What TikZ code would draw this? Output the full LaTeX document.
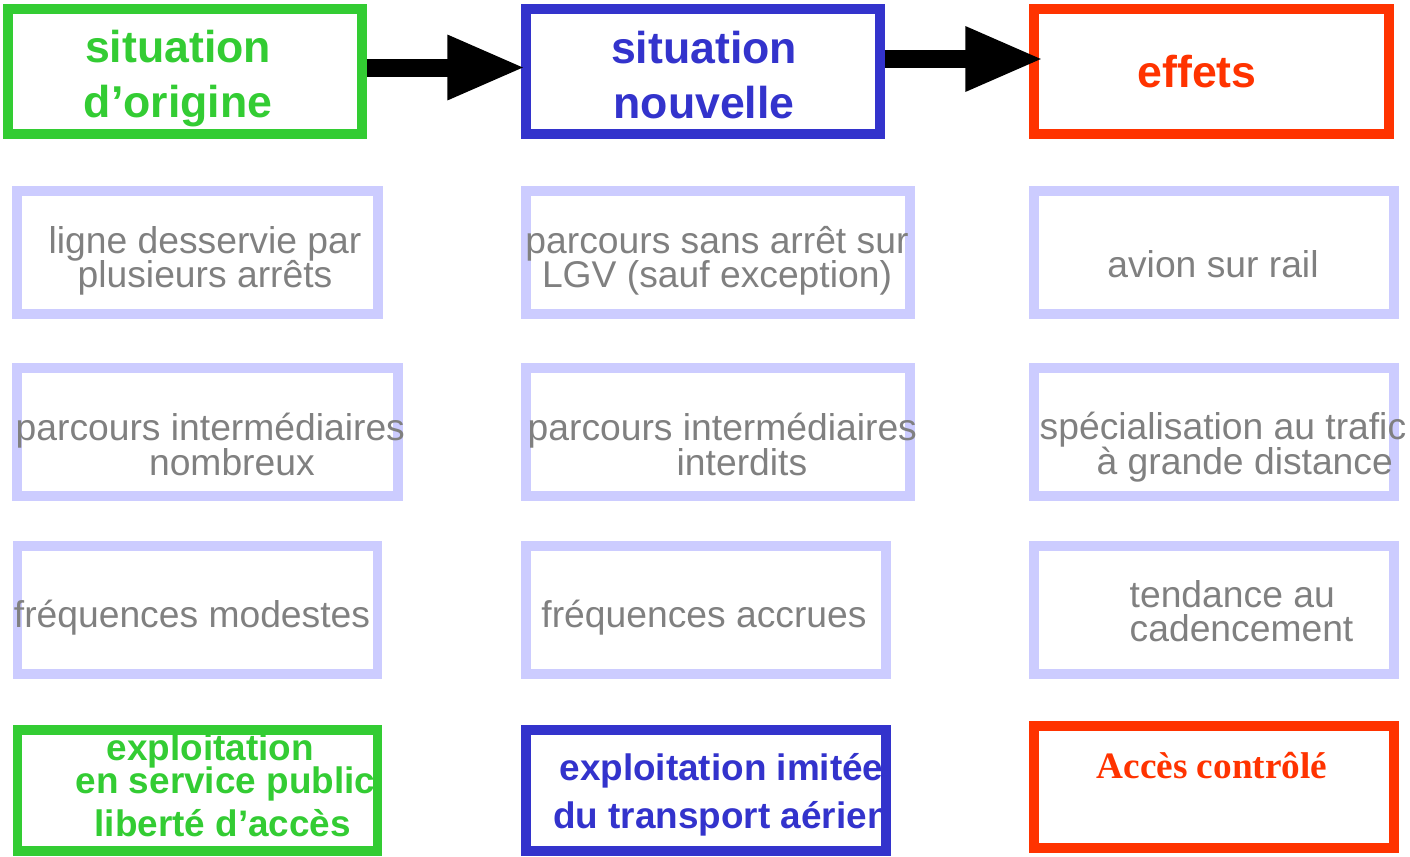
\documentclass[tikz,border=0pt]{standalone}
\usepackage{fontspec}
\setmainfont{Liberation Sans}
\newfontfamily\timesbf{Liberation Serif}
\usepackage{xcolor}
\usetikzlibrary{positioning, arrows.meta}

\definecolor{vert}{HTML}{33CC33}
\definecolor{bleu}{HTML}{3333CC}
\definecolor{rouge}{HTML}{FF3300}
\definecolor{lavande}{HTML}{CCCCFF}
\definecolor{gris}{HTML}{808080}
\newcommand\serre{\lineskiplimit=-100pt\lineskip=0pt\relax}

\begin{document}
\begin{tikzpicture}[
    cadre/.style = {
        rectangle, draw, line width=2.6pt, inner sep=0pt, minimum width=3.6cm, minimum height=1.28cm
    },
    titre/.style = {
        inner sep=0pt, align=center, font={\fontsize{12.7}{15.6}\selectfont\bfseries\serre}
    },
    texte/.style = {
        inner sep=0pt, align=center, text=gris, font={\fontsize{10.6}{9.6}\selectfont\serre}
    },
    texte3/.style = {
        texte, font={\fontsize{10.6}{10}\selectfont\serre}
    },
    bas/.style = {
        inner sep=0pt, font={\fontsize{10.5}{9.4}\selectfont\bfseries\serre}
    },
    fleche/.style = {
        -{Triangle[length=0.78cm, width=0.6cm]}, line width=0.18cm, black
    }
]
\useasboundingbox (0,0) rectangle (14.1,-8.57);

% ── Ligne 1 : titres ──
\node[cadre, draw=vert,  minimum width=3.54cm, minimum height=1.25cm] (orig) at (1.85,-0.715) {};
\node[cadre, draw=bleu,  minimum width=3.54cm, minimum height=1.25cm] (nouv) at (7.03,-0.715) {};
\node[cadre, draw=rouge, minimum width=3.55cm, minimum height=1.25cm] (eff)  at (12.115,-0.715) {};

% ── Lignes 2 a 4 : cadres clairs ──
\node[cadre, draw=lavande, minimum width=3.61cm, minimum height=1.23cm] (c21) at (1.975,-2.525) {};
\node[cadre, draw=lavande, minimum width=3.84cm, minimum height=1.23cm] (c22) at (7.18,-2.525) {};
\node[cadre, draw=lavande, minimum width=3.60cm, minimum height=1.23cm] (c23) at (12.14,-2.525) {};

\node[cadre, draw=lavande, minimum width=3.81cm] (c31) at (2.075,-4.32) {};
\node[cadre, draw=lavande, minimum width=3.84cm] (c32) at (7.18,-4.32) {};
\node[cadre, draw=lavande, minimum width=3.60cm] (c33) at (12.14,-4.32) {};

\node[cadre, draw=lavande] (c41) at (1.975,-6.10) {};
\node[cadre, draw=lavande] (c42) at (7.06,-6.10) {};
\node[cadre, draw=lavande] (c43) at (12.14,-6.10) {};

% ── Fleches ──
\draw[fleche] ([yshift=0.04cm]orig.east) -- ([xshift=0.04cm, yshift=0.04cm]nouv.west);
\draw[fleche] ([yshift=0.125cm]nouv.east) -- ([xshift=0.14cm, yshift=0.125cm]eff.west);

% ── Textes ──
\node[titre, text=vert]  (t-orig) at (1.78,-0.785) {situation\\d’origine};
\node[titre, text=bleu]  (t-nouv) at (7.04,-0.75) {situation\\nouvelle};
\node[titre, text=rouge] (t-eff)  at (11.97,-0.72) {effets};

\node[texte] (t-ligne) at (2.05,-2.605) {ligne desservie par\\plusieurs arrêts};
\node[texte] (t-sans)  at (7.17,-2.605) {parcours sans arrêt sur\\LGV (sauf exception)};
\node[texte] (t-avion) at (12.13,-2.64) {avion sur rail};

\node[texte3, align=left, anchor=west] (t-inter1) at (0.15,-4.445)
    {parcours intermédiaires\\\hspace*{3.58em}nombreux};
\node[texte3, align=left, anchor=west] (t-inter2) at (5.27,-4.445)
    {parcours intermédiaires\\\hspace*{4.0em}interdits};
\node[texte3, align=left, anchor=west] (t-spec) at (10.39,-4.475)
    {spécialisation au trafic\\\hspace*{1.53em}à grande distance};

\node[texte] (t-freq1) at (1.92,-6.18) {fréquences modestes};
\node[texte] (t-freq2) at (7.04,-6.18) {fréquences accrues};
\node[texte, align=left, anchor=west] (t-tend) at (11.29,-6.11) {tendance au\\cadencement};

% ── Ligne 5 : textes puis cadres ──
\node[bas, text=vert, align=left, anchor=west] (t-acces) at (0.75,-7.85)
    {\hspace*{0.84em}exploitation\\en service public\\[2.85pt]\hspace*{0.51em}liberté d’accès};
\node[bas, text=bleu, align=center, font={\fontsize{10.5}{13.7}\selectfont\bfseries}] (t-aerien) at (7.215,-7.95)
    {exploitation imitée\\du transport aérien};
\node[inner sep=0pt, text=rouge, font=\fontsize{10.6}{12}\timesbf\bfseries] (t-ctrl) at (12.12,-7.66) {Accès contrôlé};

\node[cadre, draw=vert,  minimum height=1.21cm] (c51) at (1.975,-7.905) {};
\node[cadre, draw=bleu,  minimum height=1.21cm] (c52) at (7.06,-7.905) {};
\node[cadre, draw=rouge, minimum height=1.22cm] (c53) at (12.14,-7.87) {};

\end{tikzpicture}
\end{document}
